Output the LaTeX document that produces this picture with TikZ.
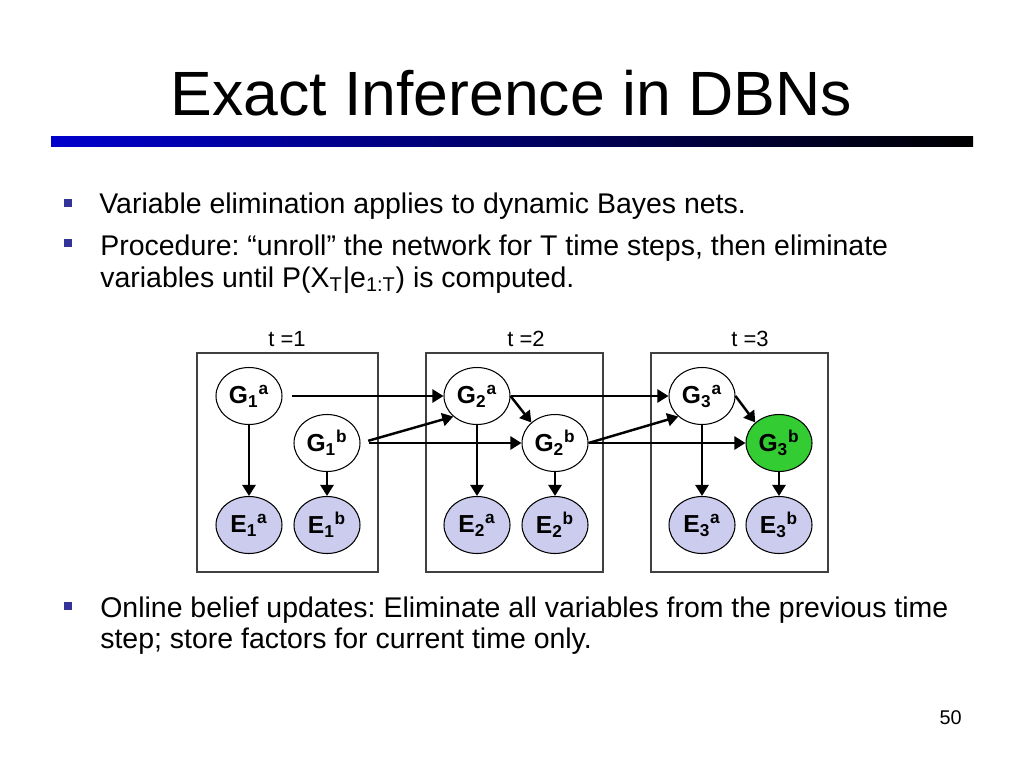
\documentclass[tikz,border=0pt]{standalone}
\usepackage{fontspec}
\setmainfont{Liberation Sans}
\usetikzlibrary{shapes.geometric,arrows.meta}
\frenchspacing
\newcommand{\nv}[3]{#1\textsubscript{#2}\textsuperscript{#3}}
\definecolor{barblue}{RGB}{0,0,204}
\definecolor{bulletblue}{RGB}{51,51,153}
\definecolor{evid}{RGB}{204,204,238}
\definecolor{query}{RGB}{51,204,51}

\begin{document}
\begin{tikzpicture}[x=0.02cm,y=-0.02cm,
		gnode/.style={ellipse,draw,line width=0.6pt,fill=white,minimum width=1.32cm,minimum height=1.14cm,inner sep=0pt,font=\fontsize{14}{15}\selectfont\bfseries},
		enode/.style={gnode,fill=evid},
		qnode/.style={gnode,fill=query},
		slice/.style={draw=black!75,line width=0.6pt},
		edge/.style={line width=1.4pt,-{Triangle[length=0.22cm,width=0.26cm]}},
		body/.style={anchor=base west,inner sep=0pt,font=\fontsize{16.2}{19}\selectfont},
		bul/.style={fill=bulletblue,minimum size=0.16cm,inner sep=0pt}]
		\useasboundingbox[fill=white] (0,0) rectangle (1024,768);

		% title and bar
		\node[anchor=base,inner sep=0pt,font=\fontsize{35.6}{40}\selectfont] (title) at (511,115) {Exact Inference in DBNs};
		\shade[left color=barblue,right color=black] (51,136) rectangle (973,146);

		% bullets
		\node[bul] (b1) at (68,203) {};
		\node[body] (l1) at (99,213) {Variable elimination applies to dynamic Bayes nets.};
		\node[bul] (b2) at (68,243) {};
		\node[body] (l2) at (100,255) {Procedure: “unroll” the network for T time steps, then eliminate};
		\node[body] (l3) at (100,287) {variables until P(X\textsubscript{T}|e\textsubscript{1:T}) is computed.};
		\node[bul] (b3) at (68,606) {};
		\node[body] (l4) at (100,617) {Online belief updates: Eliminate all variables from the previous time};
		\node[body] (l5) at (100,648) {step; store factors for current time only.};
		\node[anchor=base east,inner sep=0pt,font=\fontsize{11.3}{13}\selectfont] (page) at (962,724) {50};

		% time slices
		\draw[slice] (197,353) rectangle (378,572);
		\draw[slice] (426,353) rectangle (603,572);
		\draw[slice] (651,353) rectangle (828,572);
		\node[font=\fontsize{12.5}{14}\selectfont] (t1) at (287,339) {t =1};
		\node[font=\fontsize{12.5}{14}\selectfont] (t2) at (526,339) {t =2};
		\node[font=\fontsize{12.5}{14}\selectfont] (t3) at (750,339) {t =3};

		% nodes
		\node[gnode] (G1a) at (249,396) {\nv{G}{1}{a}};
		\node[gnode] (G1b) at (327,443) {\nv{G}{1}{b}};
		\node[enode] (E1a) at (249,525) {\nv{E}{1}{a}};
		\node[enode] (E1b) at (327,525) {\nv{E}{1}{b}};
		\node[gnode] (G2a) at (477,396) {\nv{G}{2}{a}};
		\node[gnode] (G2b) at (555,443) {\nv{G}{2}{b}};
		\node[enode] (E2a) at (477,525) {\nv{E}{2}{a}};
		\node[enode] (E2b) at (555,525) {\nv{E}{2}{b}};
		\node[gnode] (G3a) at (702,396) {\nv{G}{3}{a}};
		\node[qnode] (G3b) at (779,443) {\nv{G}{3}{b}};
		\node[enode] (E3a) at (702,525) {\nv{E}{3}{a}};
		\node[enode] (E3b) at (779,525) {\nv{E}{3}{b}};

		% arrows
		\draw[edge] (G1a) to (E1a);
		\draw[edge] (G1b) to (E1b);
		\draw[edge] (G2a) to (E2a);
		\draw[edge] (G2b) to (E2b);
		\draw[edge] (G3a) to (E3a);
		\draw[edge] (G3b) to (E3b);
		\draw[edge,shorten <=0.18cm] (G1a.east) to (G2a.west);
		\draw[edge,shorten <=0.16cm] (G1b.east) to (G2a.south west);
		\draw[edge,shorten <=0.16cm] (G1b.east) to (G2b.west);
		\draw[edge] (G2a.east) to (G2b.north west);
		\draw[edge] (G2a.east) to (G3a.west);
		\draw[edge] (G2b.east) to (G3a.south west);
		\draw[edge] (G2b.east) to (G3b.west);
		\draw[edge] (G3a.east) to (G3b.north west);
	\end{tikzpicture}
\end{document}
